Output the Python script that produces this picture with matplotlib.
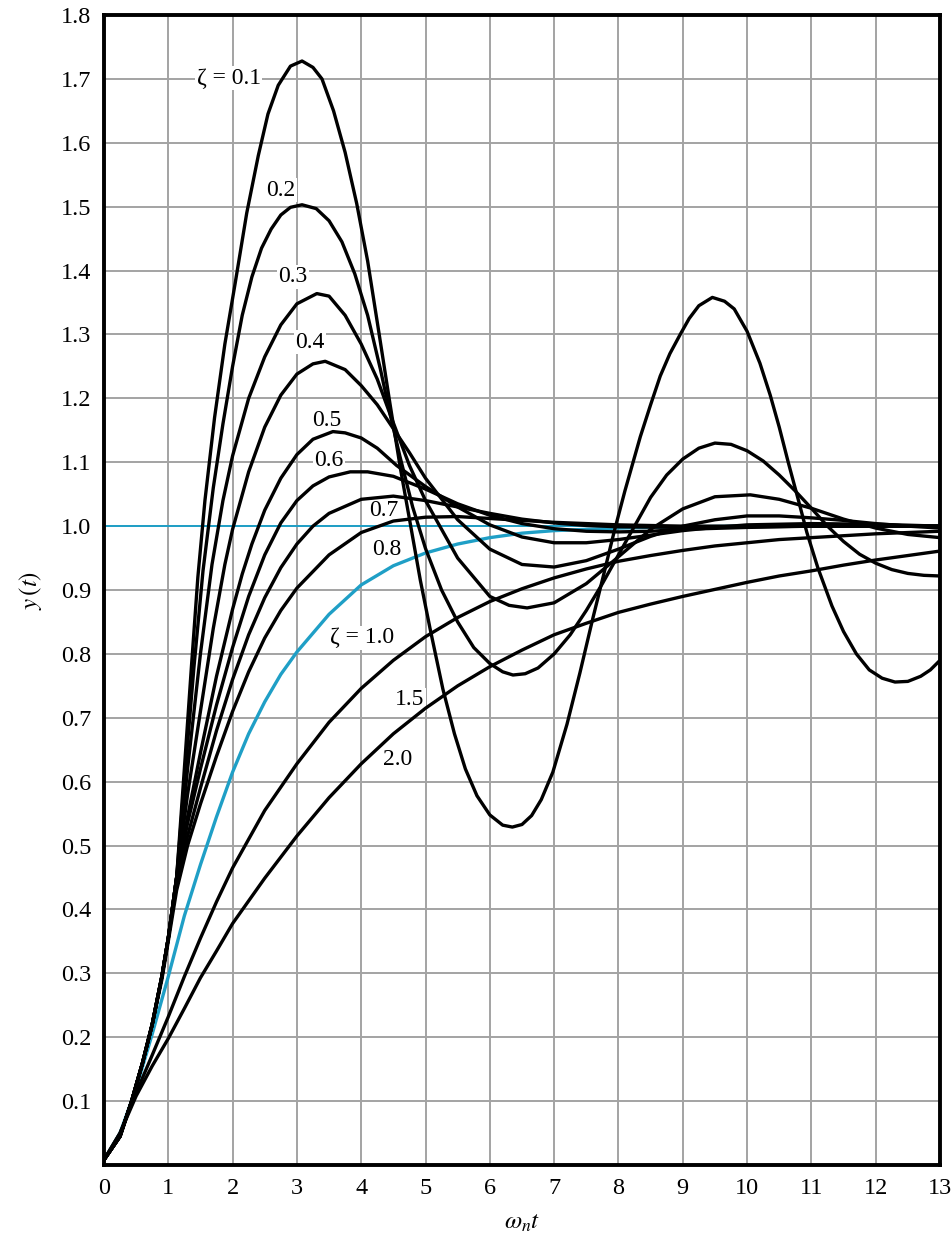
import matplotlib
matplotlib.use("Agg")
import matplotlib.pyplot as plt

plt.rcParams['font.family'] = ['Liberation Serif', 'DejaVu Serif']
plt.rcParams['mathtext.fontset'] = 'stix'

# step responses (t = omega_n * t, y = y(t))
t_01 = [0, 0.25, 0.43, 0.6, 0.75, 0.9, 1.0, 1.13, 1.25, 1.36, 1.46, 1.57, 1.72, 1.88, 2.04, 2.22, 2.40, 2.55,
        2.71, 2.90, 3.08, 3.25, 3.39, 3.57, 3.75, 3.93, 4.10, 4.28, 4.45, 4.61, 4.77, 4.92, 5.07, 5.27, 5.45,
        5.62, 5.80, 6.00, 6.20, 6.35, 6.50, 6.65, 6.80, 6.98, 7.20, 7.40, 7.60, 7.76, 7.93, 8.10, 8.34, 8.50,
        8.65, 8.80, 8.96, 9.10, 9.25, 9.46, 9.65, 9.80, 10.00, 10.20, 10.36, 10.50, 10.64, 10.80, 10.93, 11.10,
        11.32, 11.50, 11.70, 11.90, 12.10, 12.30, 12.50, 12.70, 12.85, 13.00]
y_01 = [0.008, 0.045, 0.10, 0.16, 0.22, 0.295, 0.355, 0.45, 0.62, 0.78, 0.92, 1.04, 1.17, 1.285, 1.38, 1.49,
        1.58, 1.645, 1.69, 1.72, 1.728, 1.718, 1.70, 1.65, 1.585, 1.505, 1.415, 1.30, 1.19, 1.09, 1.00, 0.915,
        0.84, 0.745, 0.675, 0.62, 0.578, 0.548, 0.532, 0.529, 0.533, 0.547, 0.572, 0.615, 0.69, 0.77, 0.855,
        0.92, 0.99, 1.055, 1.14, 1.19, 1.235, 1.27, 1.30, 1.325, 1.345, 1.358, 1.352, 1.34, 1.305, 1.255, 1.205,
        1.155, 1.10, 1.04, 0.99, 0.935, 0.875, 0.835, 0.80, 0.775, 0.762, 0.756, 0.757, 0.765, 0.775, 0.79]

t_02 = [0, 0.25, 0.43, 0.6, 0.75, 0.9, 1.0, 1.13, 1.25, 1.4, 1.54, 1.7, 1.85, 2.0, 2.15, 2.30, 2.45, 2.6, 2.75,
        2.9, 3.08, 3.3, 3.5, 3.7, 3.9, 4.1, 4.3, 4.45, 4.6, 4.8, 5.0, 5.25, 5.5, 5.75, 6.0, 6.2, 6.36, 6.55, 6.75,
        7.0, 7.25, 7.5, 7.75, 8.0, 8.25, 8.5, 8.75, 9.0, 9.25, 9.5, 9.75, 10.0, 10.25, 10.5, 10.75, 11.0, 11.25,
        11.5, 11.75, 12.0, 12.25, 12.5, 12.75, 13.0]
y_02 = [0.008, 0.045, 0.10, 0.16, 0.22, 0.295, 0.355, 0.45, 0.60, 0.78, 0.93, 1.06, 1.16, 1.25, 1.33, 1.39,
        1.435, 1.465, 1.487, 1.499, 1.503, 1.497, 1.478, 1.445, 1.395, 1.33, 1.245, 1.175, 1.11, 1.03, 0.965,
        0.90, 0.85, 0.81, 0.785, 0.772, 0.767, 0.769, 0.778, 0.80, 0.83, 0.868, 0.91, 0.955, 1.0, 1.045, 1.08,
        1.105, 1.122, 1.13, 1.128, 1.118, 1.102, 1.08, 1.055, 1.028, 1.0, 0.976, 0.956, 0.942, 0.932, 0.926,
        0.923, 0.922]

t_03 = [0, 0.25, 0.43, 0.6, 0.75, 0.9, 1.0, 1.13, 1.3, 1.5, 1.68, 1.85, 2.0, 2.25, 2.5, 2.75, 3.0, 3.31, 3.5,
        3.75, 4.0, 4.25, 4.45, 4.75, 5.0, 5.5, 6.0, 6.3, 6.58, 7.0, 7.5, 8.0, 8.5, 9.0, 9.5, 10.05, 10.5, 11.0,
        11.5, 12.0, 12.5, 13.0]
y_03 = [0.008, 0.045, 0.10, 0.16, 0.22, 0.295, 0.355, 0.45, 0.62, 0.80, 0.94, 1.04, 1.11, 1.20, 1.265, 1.315,
        1.348, 1.364, 1.36, 1.33, 1.285, 1.23, 1.175, 1.095, 1.04, 0.95, 0.89, 0.876, 0.872, 0.88, 0.91, 0.952,
        0.995, 1.027, 1.046, 1.049, 1.042, 1.028, 1.011, 0.997, 0.987, 0.982]

t_04 = [0, 0.25, 0.43, 0.6, 0.75, 0.9, 1.0, 1.13, 1.3, 1.5, 1.7, 1.88, 2.0, 2.25, 2.5, 2.75, 3.0, 3.25, 3.44,
        3.75, 4.0, 4.25, 4.45, 4.75, 5.0, 5.5, 6.0, 6.5, 7.0, 7.5, 8.0, 8.5, 9.0, 9.5, 10.0, 10.5, 11.0, 11.5,
        12.0, 12.5, 13.0]
y_04 = [0.008, 0.045, 0.10, 0.16, 0.22, 0.295, 0.355, 0.45, 0.58, 0.71, 0.84, 0.94, 0.995, 1.085, 1.155, 1.205,
        1.238, 1.254, 1.258, 1.245, 1.22, 1.19, 1.16, 1.115, 1.075, 1.01, 0.964, 0.94, 0.936, 0.946, 0.964,
        0.984, 1.0, 1.01, 1.016, 1.016, 1.013, 1.009, 1.004, 1.0, 0.997]

t_05 = [0, 0.25, 0.43, 0.6, 0.75, 0.9, 1.0, 1.13, 1.3, 1.5, 1.75, 2.0, 2.15, 2.3, 2.5, 2.75, 3.0, 3.25, 3.56,
        3.75, 4.0, 4.25, 4.55, 5.0, 5.5, 6.0, 6.5, 7.0, 7.5, 8.0, 8.5, 9.0, 9.5, 10.0, 11.0, 12.0, 13.0]
y_05 = [0.008, 0.045, 0.10, 0.16, 0.22, 0.295, 0.355, 0.45, 0.545, 0.645, 0.765, 0.87, 0.925, 0.972, 1.025,
        1.075, 1.112, 1.136, 1.148, 1.146, 1.138, 1.122, 1.095, 1.062, 1.03, 1.002, 0.983, 0.974, 0.974, 0.979,
        0.986, 0.993, 0.998, 1.002, 1.004, 1.003, 1.0]

t_06 = [0, 0.25, 0.43, 0.6, 0.75, 0.9, 1.0, 1.13, 1.3, 1.5, 1.75, 2.0, 2.25, 2.5, 2.75, 3.0, 3.25, 3.5, 3.83,
        4.1, 4.5, 5.0, 5.5, 6.0, 6.5, 7.0, 7.5, 8.0, 8.5, 9.0, 10.0, 11.0, 12.0, 13.0]
y_06 = [0.008, 0.045, 0.10, 0.16, 0.22, 0.295, 0.355, 0.45, 0.535, 0.62, 0.72, 0.81, 0.89, 0.955, 1.005, 1.04,
        1.063, 1.077, 1.085, 1.085, 1.078, 1.058, 1.035, 1.017, 1.004, 0.996, 0.992, 0.991, 0.992, 0.995, 0.998,
        1.0, 1.0, 1.0]

t_07 = [0, 0.25, 0.43, 0.6, 0.75, 0.9, 1.0, 1.13, 1.3, 1.5, 1.75, 2.0, 2.25, 2.5, 2.75, 3.0, 3.25, 3.5, 4.0,
        4.5, 5.0, 5.5, 6.0, 6.5, 7.0, 7.5, 8.0, 9.0, 10.0, 11.0, 13.0]
y_07 = [0.008, 0.045, 0.10, 0.16, 0.22, 0.295, 0.355, 0.44, 0.515, 0.59, 0.68, 0.76, 0.83, 0.888, 0.935, 0.972,
        1.0, 1.02, 1.042, 1.047, 1.04, 1.03, 1.02, 1.011, 1.005, 1.001, 0.999, 0.998, 0.999, 1.0, 1.0]

t_08 = [0, 0.25, 0.43, 0.6, 0.75, 0.9, 1.0, 1.13, 1.3, 1.5, 1.75, 2.0, 2.25, 2.5, 2.75, 3.0, 3.5, 4.0, 4.5, 5.0,
        5.5, 6.0, 7.0, 8.0, 9.0, 13.0]
y_08 = [0.008, 0.045, 0.10, 0.16, 0.22, 0.29, 0.35, 0.43, 0.50, 0.565, 0.64, 0.71, 0.772, 0.825, 0.868, 0.903,
        0.955, 0.99, 1.008, 1.014, 1.015, 1.012, 1.006, 1.002, 1.0, 1.0]

t_10 = [0, 0.25, 0.5, 0.75, 1.0, 1.25, 1.5, 1.75, 2.0, 2.25, 2.5, 2.75, 3.0, 3.5, 4.0, 4.5, 5.0, 5.5, 6.0, 6.5,
        7.0, 8.0, 9.0, 10.0, 13.0]
y_10 = [0.008, 0.05, 0.12, 0.205, 0.295, 0.39, 0.47, 0.545, 0.615, 0.675, 0.725, 0.768, 0.803, 0.862, 0.908,
        0.938, 0.958, 0.972, 0.982, 0.989, 0.993, 0.997, 0.999, 1.0, 1.0]

t_15 = [0, 0.25, 0.5, 0.75, 1.0, 1.25, 1.5, 1.75, 2.0, 2.5, 3.0, 3.5, 4.0, 4.5, 5.0, 5.5, 6.0, 6.5, 7.0, 7.5,
        8.0, 8.5, 9.0, 9.5, 10.0, 10.5, 11.0, 11.5, 12.0, 12.5, 13.0]
y_15 = [0.008, 0.05, 0.113, 0.172, 0.232, 0.295, 0.355, 0.412, 0.465, 0.555, 0.628, 0.693, 0.746, 0.790, 0.827,
        0.857, 0.882, 0.902, 0.919, 0.933, 0.945, 0.954, 0.962, 0.969, 0.974, 0.979, 0.982, 0.985, 0.988, 0.990,
        0.992]

t_20 = [0, 0.25, 0.5, 0.75, 1.0, 1.25, 1.5, 1.75, 2.0, 2.5, 3.0, 3.5, 4.0, 4.5, 5.0, 5.5, 6.0, 6.5, 7.0, 7.5,
        8.0, 8.5, 9.0, 9.5, 10.0, 10.5, 11.0, 11.5, 12.0, 12.5, 13.0]
y_20 = [0.008, 0.05, 0.108, 0.155, 0.198, 0.245, 0.293, 0.335, 0.378, 0.449, 0.515, 0.575, 0.628, 0.675, 0.715,
        0.75, 0.78, 0.806, 0.83, 0.848, 0.865, 0.878, 0.89, 0.901, 0.912, 0.922, 0.93, 0.939, 0.947, 0.954, 0.961]

black_curves = [(t_01, y_01), (t_02, y_02), (t_03, y_03), (t_04, y_04), (t_05, y_05), (t_06, y_06),
                (t_07, y_07), (t_08, y_08), (t_15, y_15), (t_20, y_20)]

label_texts = ['\u03b6 = 0.1', '0.2', '0.3', '0.4', '0.5', '0.6', '0.7', '0.8', '\u03b6 = 1.0', '1.5', '2.0']
label_t = [1.94, 2.75, 2.94, 3.20, 3.47, 3.50, 4.35, 4.40, 4.01, 4.76, 4.57]
label_y = [1.701, 1.526, 1.390, 1.288, 1.165, 1.102, 1.025, 0.963, 0.825, 0.728, 0.634]

CYAN = '#1f9fc6'

fig = plt.figure(figsize=(9.52, 12.41), dpi=100)
ax = fig.add_axes([0.1092, 0.0612, 0.8782, 0.9267])
ax.set_xlim(0, 13)
ax.set_ylim(0, 1.8)

ax.set_xticks(range(0, 14))
ax.set_yticks([i / 10 for i in range(1, 19)])
ax.set_yticklabels(['%.1f' % (i / 10) for i in range(1, 19)])
ax.grid(True, color='#a3a3a3', linewidth=1.4)
ax.set_axisbelow(True)
ax.tick_params(length=0, labelsize=17.5, pad=9)
for sp in ax.spines.values():
    sp.set_linewidth(2.8)
    sp.set_zorder(10)

ax.axhline(1.0, color=CYAN, linewidth=1.4, zorder=2)
ax.plot(t_10, y_10, color=CYAN, linewidth=2.4, zorder=3)
for tt, yy in black_curves:
    ax.plot(tt, yy, color='black', linewidth=2.4, zorder=4, solid_joinstyle='round')

for s, x, y in zip(label_texts, label_t, label_y):
    ax.text(x, y, s, fontsize=17, ha='center', va='center', zorder=2.5,
            bbox=dict(facecolor='white', edgecolor='none', pad=1.0))

ax.set_ylabel(r'$y\,(t)$', fontsize=18, labelpad=12)
ax.set_xlabel(r'$\omega_n t$', fontsize=18, labelpad=10)

fig.savefig('out.png', dpi=100)
